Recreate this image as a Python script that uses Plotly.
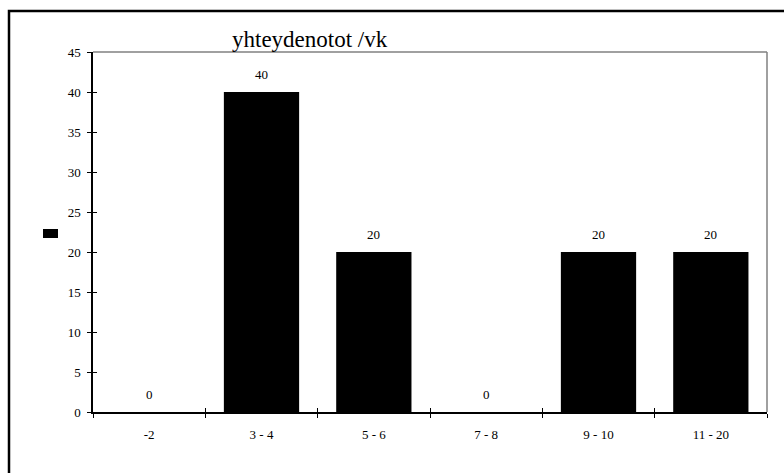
import plotly.graph_objects as go

# Weekly contact counts per class
categories = ["-2", "3 - 4", "5 - 6", "7 - 8", "9 - 10", "11 - 20"]
values = [0, 40, 20, 0, 20, 20]
y_ticks = [0, 5, 10, 15, 20, 25, 30, 35, 40, 45]
title_text = "yhteydenotot /vk"

SERIF = "Liberation Serif"
W, H = 784, 473
ML, MR, MT, MB = 93, 17, 52, 61
PW, PH = W - ML - MR, H - MT - MB

def px_to_paper_x(px):
    return (px - ML) / PW

def px_to_paper_y(py):
    return (H - MB - py) / PH

fig = go.Figure()

fig.add_trace(go.Bar(
    x=categories, y=values,
    marker=dict(color="black", line=dict(width=0)),
    showlegend=False, hoverinfo="skip",
))

# invisible companion trace so the overlay axes can draw the inner half of the ticks
fig.add_trace(go.Scatter(
    x=categories, y=values, xaxis="x2", yaxis="y2",
    mode="markers", marker=dict(opacity=0),
    showlegend=False, hoverinfo="skip",
))

# value labels above each bar (category index keeps "-2" from being read as a number)
for i, v in enumerate(values):
    fig.add_annotation(
        x=i, y=v, text=str(v), showarrow=False, yshift=18,
        font=dict(family=SERIF, size=13, color="black"),
    )

# title
fig.add_annotation(
    xref="paper", yref="paper",
    x=px_to_paper_x(310), y=px_to_paper_y(40),
    text=title_text, showarrow=False, xanchor="center", yanchor="middle",
    font=dict(family=SERIF, size=23, color="black"),
)

shapes = [
    # grey top and right border of the plot area
    dict(type="line", xref="paper", yref="paper", x0=0, x1=1, y0=1, y1=1,
         line=dict(color="#808080", width=1.5)),
    dict(type="line", xref="paper", yref="paper", x0=1, x1=1, y0=0, y1=1,
         line=dict(color="#808080", width=1.5)),
    # outer chart frame
    dict(type="rect", xref="paper", yref="paper",
         x0=px_to_paper_x(9), x1=px_to_paper_x(800),
         y0=px_to_paper_y(490), y1=px_to_paper_y(11),
         line=dict(color="black", width=2.5), fillcolor="rgba(0,0,0,0)"),
    # legend key
    dict(type="rect", xref="paper", yref="paper",
         x0=px_to_paper_x(43), x1=px_to_paper_x(58),
         y0=px_to_paper_y(238), y1=px_to_paper_y(229),
         line=dict(width=0), fillcolor="black"),
]

cat_range = [-0.5, len(categories) - 0.5]

fig.update_layout(
    width=W, height=H,
    margin=dict(l=ML, r=MR, t=MT, b=MB, pad=0),
    paper_bgcolor="white", plot_bgcolor="white",
    bargap=0.33,
    shapes=shapes,
    font=dict(family=SERIF, size=13, color="black"),
    xaxis=dict(
        type="category", categoryorder="array", categoryarray=categories,
        range=cat_range,
        showgrid=False, showline=True, linecolor="black", linewidth=1.5,
        ticks="outside", ticklen=4, tickwidth=1, tickcolor="black",
        tickson="boundaries", ticklabelstandoff=10,
        tickfont=dict(family=SERIF, size=13), zeroline=False,
    ),
    yaxis=dict(
        range=[0, 45], tickvals=y_ticks, showgrid=False, zeroline=False,
        showline=True, linecolor="black", linewidth=1.5,
        ticks="outside", ticklen=4, tickwidth=1, tickcolor="black",
        ticklabelstandoff=4, tickfont=dict(family=SERIF, size=13),
    ),
    xaxis2=dict(
        type="category", categoryorder="array", categoryarray=categories,
        range=cat_range,
        overlaying="x", showgrid=False, showline=False, zeroline=False,
        ticks="inside", ticklen=4, tickwidth=1, tickcolor="black",
        tickson="boundaries", showticklabels=False,
    ),
    yaxis2=dict(
        range=[0, 45], tickvals=y_ticks, overlaying="y", showgrid=False,
        showline=False, zeroline=False, ticks="inside", ticklen=4,
        tickwidth=1, tickcolor="black", showticklabels=False,
    ),
)

fig.write_html("out.html")
